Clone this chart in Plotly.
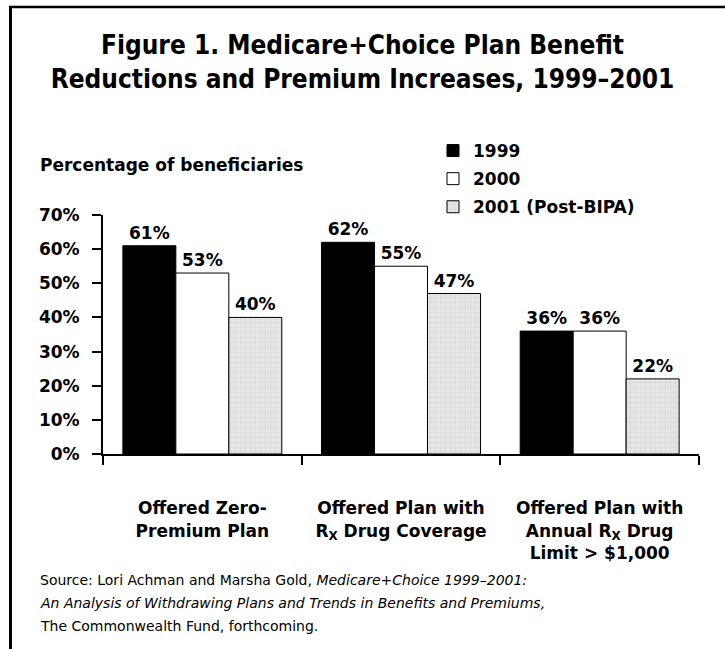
import plotly.graph_objects as go

categories = [
    "Offered Zero-<br>Premium Plan",
    "Offered Plan with<br>R<sub>X</sub> Drug Coverage",
    "Offered Plan with<br>Annual R<sub>X</sub> Drug<br>Limit > $1,000",
]
series_names = ["1999", "2000", "2001 (Post-BIPA)"]
values_1999 = [61, 62, 36]
values_2000 = [53, 55, 36]
values_2001 = [40, 47, 22]
y_tickvals = [0, 10, 20, 30, 40, 50, 60, 70]
y_ticktext = ["0%", "10%", "20%", "30%", "40%", "50%", "60%", "70%"]
source_lines = [
    "Source: Lori Achman and Marsha Gold, <i>Medicare+Choice 1999–2001:</i>",
    "<i>An Analysis of Withdrawing Plans and Trends in Benefits and Premiums,</i>",
    "The Commonwealth Fund, forthcoming.",
]

W, H = 725, 649
L, R, T, B = 103, 26, 215, 195
BOLD = "DejaVu Sans"
TITLE_FONT = "DejaVu Sans Condensed, sans-serif"
SRC_FONT = "DejaVu Sans, sans-serif"

fig = go.Figure()
styles = [
    dict(color="black"),
    dict(color="white"),
    dict(color="#e4e4e4", pattern=dict(shape="+", fgcolor="#bdbdbd", bgcolor="#e6e6e6", size=5, solidity=0.2)),
]
for i, (name, vals) in enumerate(zip(series_names, [values_1999, values_2000, values_2001])):
    fig.add_trace(go.Bar(
        x=categories, y=vals, name=name, legendgroup=name,
        marker=dict(line=dict(color="black", width=1), **styles[i]),
        text=[f"{v}%" for v in vals], textposition="outside",
        textfont=dict(family=BOLD, size=17, color="black", weight="bold"),
        constraintext="none", cliponaxis=False,
    ))

fig.update_layout(
    width=W, height=H,
    margin=dict(l=L, r=R, t=T, b=B, autoexpand=False),
    paper_bgcolor="white", plot_bgcolor="white",
    barmode="group", bargap=0.2, bargroupgap=0,
    showlegend=True,
    title=dict(
        text="Figure 1. Medicare+Choice Plan Benefit<br>Reductions and Premium Increases, 1999–2001",
        x=0.5, xanchor="center", xref="container",
        y=1 - 54 / H, yanchor="top", yref="container",
        font=dict(family=TITLE_FONT, size=26, color="black", weight="bold"),
    ),
    legend=dict(
        x=433 / W, xref="container", xanchor="left",
        y=1 - 133 / H, yref="container", yanchor="top",
        font=dict(family=BOLD, size=17, color="black", weight="bold"),
        tracegroupgap=3, bgcolor="rgba(0,0,0,0)",
    ),
    font=dict(family=BOLD, color="black"),
)
fig.update_xaxes(
    showline=True, linecolor="black", linewidth=2,
    ticks="outside", tickson="boundaries", ticklen=9, tickwidth=2, tickcolor="black",
    tickfont=dict(family=BOLD, size=17, color="black", weight="bold"),
    ticklabelstandoff=38,
    tickangle=0, showgrid=False,
)
fig.update_yaxes(
    range=[0, 70], tickvals=y_tickvals, ticktext=y_ticktext,
    showline=True, linecolor="black", linewidth=2,
    ticks="outside", ticklen=9, tickwidth=2, tickcolor="black",
    tickfont=dict(family=BOLD, size=17, color="black", weight="bold"),
    ticklabelstandoff=9,
    showgrid=False, zeroline=False,
)

def px2x(px):
    return (px - L) / (W - L - R)

def py2y(py):
    return (H - B - py) / (H - T - B)

fig.add_annotation(
    text="Percentage of beneficiaries", xref="paper", yref="paper",
    x=px2x(38), y=py2y(165),
    xanchor="left", yanchor="middle", showarrow=False,
    font=dict(family=BOLD, size=17, color="black", weight="bold"),
)
for k, line in enumerate(source_lines):
    fig.add_annotation(
        text=line, xref="paper", yref="paper",
        x=px2x(38), y=py2y(580 + 23 * k),
        xanchor="left", yanchor="middle", showarrow=False,
        font=dict(family=SRC_FONT, size=14, color="black"),
    )

fig.add_shape(type="line", xref="paper", yref="paper",
              x0=px2x(9), x1=px2x(W + 5), y0=py2y(7), y1=py2y(7),
              line=dict(color="black", width=2.5))
fig.add_shape(type="line", xref="paper", yref="paper",
              x0=px2x(10.5), x1=px2x(10.5), y0=py2y(6), y1=py2y(H + 5),
              line=dict(color="black", width=3))

fig.write_html("out.html", config={"displayModeBar": False},
               post_script="document.body.style.margin='0';")
